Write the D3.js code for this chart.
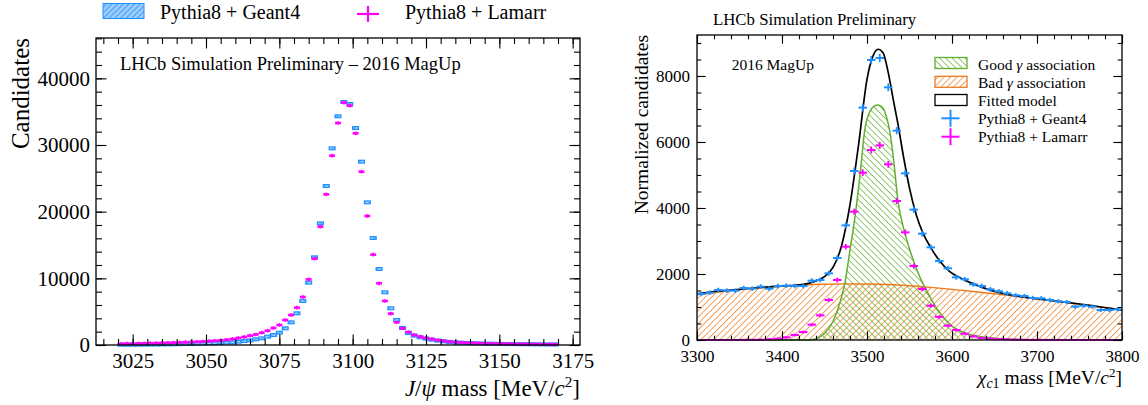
<!DOCTYPE html>
<html>
<head>
<meta charset="utf-8">
<script src="https://cdn.jsdelivr.net/npm/d3@7"></script>
<style>
  body { margin: 0; background: #fff; }
  svg, svg text { font-family: "Liberation Serif", "Times New Roman", serif; }
  svg { display: block; }
</style>
</head>
<body>
<svg width="1148" height="405"></svg>
<script>
// ---- J/psi panel (2 MeV bins, 3020..3170) ----
const jpsiBinWidth = 2;
const jpsiCenters = d3.range(3021, 3170, jpsiBinWidth);
const jpsiGeant4 = [
  40, 45, 50, 55, 60, 70, 80, 90, 100, 115, 130, 150, 170, 190, 220, 250, 280, 320, 360,
  400, 500, 600, 700, 850, 1000, 1250, 1500, 1850, 2500, 3400, 4750, 6600, 9350, 13150,
  18250, 23850, 29500, 34300, 36450, 36150, 32550, 27500, 21400, 16050, 11400, 7900, 5500,
  3750, 2550, 1800, 1400, 1150, 950,
  800, 660, 550, 460, 390, 340, 300, 265, 235, 210, 190, 175, 160, 145, 135, 125, 115, 105, 100, 90, 85, 80
];
const jpsiLamarr = [
  180, 200, 210, 230, 250, 270, 290, 310, 340, 360, 390, 420, 450, 490, 530, 580, 640, 700, 790,
  900, 1050, 1200, 1400, 1580, 1850, 2150, 2550, 3000, 3750, 4500, 5600, 7200, 9850, 12950,
  17750, 22600, 28400, 33300, 36350, 35900, 31750, 26000, 19350, 13550, 9250, 6600, 4700,
  3400, 2500, 1950, 1500, 1250, 1050,
  900, 720, 600, 500, 420, 370, 330, 290, 260, 240, 220, 200, 185, 170, 160, 150, 140, 130, 120, 110, 100, 95
];
const jpsiXTicks = [3025, 3050, 3075, 3100, 3125, 3150, 3175];
const jpsiYTicks = [0, 10000, 20000, 30000, 40000];

// ---- chi_c1 panel (10 MeV bins, 3300..3800) ----
const chiBinWidth = 10;
const chiCenters = d3.range(3305, 3800, chiBinWidth);
const chiGeant4 = [
  1394, 1434, 1515, 1495, 1495, 1576, 1555, 1616, 1555, 1636,
  1646, 1636, 1636, 1798, 1818, 2020, 2485, 3474, 5121, 7040,
  8484, 8545, 7656, 6343, 5050, 3949, 3222, 2808, 2394, 2172,
  1899, 1838, 1687, 1636, 1535, 1475, 1414, 1353, 1333, 1273,
  1263, 1212, 1172, 1151, 1010, 1040, 1010, 909, 909, 929
];
const chiLamarr = [
  0, 0, 0, 0, 0, 3, 5, 8, 20, 40,
  81, 150, 240, 465, 747, 1212, 1818, 2828, 3889, 5070,
  5757, 5898, 5323, 4212, 3262, 2242, 1545, 1040, 700, 434,
  303, 190, 110, 60, 40, 25, 15, 10, 6, 4,
  3, 2, 2, 1, 1, 0, 0, 0, 0, 0
];
const fitX = [3300, 3320, 3340, 3360, 3380, 3400, 3420, 3430, 3440, 3450, 3460, 3470, 3480, 3490,
  3500, 3507, 3513, 3519, 3525, 3531, 3536, 3543, 3550, 3558, 3566, 3575, 3586, 3597, 3610,
  3625, 3645, 3665, 3685, 3700, 3725, 3750, 3775, 3800];
const fitModel = [1400, 1470, 1510, 1560, 1600, 1635, 1670, 1710, 1790, 1920, 2200, 2850, 4100, 5900,
  7900, 8600, 8810, 8700, 8100, 7270, 6600, 5550, 4600, 3790, 3230, 2800, 2380, 2080, 1880,
  1700, 1510, 1380, 1300, 1250, 1170, 1090, 1000, 910];
const badX = [3300, 3325, 3350, 3375, 3400, 3425, 3450, 3475, 3500, 3525, 3550, 3575, 3600,
  3625, 3650, 3675, 3700, 3725, 3750, 3775, 3800];
const badGamma = [1370, 1450, 1520, 1580, 1625, 1665, 1690, 1700, 1695, 1680, 1645, 1595, 1535,
  1470, 1400, 1325, 1245, 1165, 1085, 1000, 905];
const goodX = [3300, 3430, 3440, 3450, 3460, 3468, 3474, 3480, 3487, 3493, 3497, 3503, 3508, 3513,
  3518, 3523, 3527, 3532, 3536, 3545, 3552, 3562, 3574, 3586, 3601, 3617, 3640, 3670, 3700, 3800];
const goodGamma = [0, 0, 40, 200, 560, 1120, 1730, 2730, 3950, 5300, 6300, 6900, 7080, 7120,
  7050, 6750, 6300, 5300, 4300, 3200, 2600, 1920, 1310, 810, 400, 200, 80, 20, 0, 0];
const chiXTicks = [3300, 3400, 3500, 3600, 3700, 3800];
const chiYTicks = [0, 2000, 4000, 6000, 8000];

const BLUE = "#1e90ff", PINK = "#ff00ff", GREEN = "#62b030", ORANGE = "#f07a1c";

const svg = d3.select("svg");
const defs = svg.append("defs");

function hatch(id, angle, color, bg, gap, w) {
  const p = defs.append("pattern")
    .attr("id", id)
    .attr("patternUnits", "userSpaceOnUse")
    .attr("width", gap).attr("height", gap)
    .attr("patternTransform", `rotate(${angle})`);
  if (bg) p.append("rect").attr("width", gap).attr("height", gap).attr("fill", bg);
  p.append("line")
    .attr("x1", gap / 2).attr("x2", gap / 2).attr("y1", 0).attr("y2", gap)
    .attr("stroke", color).attr("stroke-width", w);
}
hatch("blueHatch", 45, BLUE, "#a6d1fb", 4, 1);
hatch("orangeHatch", 45, ORANGE, null, 4.5, 0.7);
hatch("greenHatch", -45, GREEN, null, 4.5, 0.7);

// ticks inward on all four sides + box
function frame(g, x, y, w, h, o) {
  const style = sel => sel
    .attr("font-family", null)
    .attr("font-size", o.font)
    .call(s => s.select(".domain").remove())
    .call(s => s.selectAll("line").attr("stroke", "#000").attr("stroke-width", 1.1))
    .call(s => s.selectAll("text").attr("fill", "#000"));

  const sides = [
    { a: d3.axisBottom, s: x, t: `translate(0,${h})`, lab: true },
    { a: d3.axisTop, s: x, t: null, lab: false },
    { a: d3.axisLeft, s: y, t: null, lab: true },
    { a: d3.axisRight, s: y, t: `translate(${w},0)`, lab: false }
  ];
  for (const sd of sides) {
    const isX = sd.s === x;
    const major = isX ? o.xTicks : o.yTicks;
    const minor = isX ? o.xMinor : o.yMinor;
    g.append("g").attr("transform", sd.t)
      .call(sd.a(sd.s).tickValues(minor).tickSize(-o.minorLen).tickFormat(""))
      .call(style);
    g.append("g").attr("transform", sd.t)
      .call(sd.a(sd.s).tickValues(major).tickSize(-o.majorLen)
        .tickPadding(isX ? o.padX : o.padY)
        .tickFormat(sd.lab ? d3.format("d") : ""))
      .call(style);
  }
  g.append("rect")
    .attr("width", w).attr("height", h)
    .attr("fill", "none").attr("stroke", "#000").attr("stroke-width", 1.3);
}

// ================= left panel =================
{
  const m = { left: 96, top: 38 }, w = 484, h = 307;
  const g = svg.append("g").attr("transform", `translate(${m.left},${m.top})`);
  const x = d3.scaleLinear().domain([3012.5, 3177.5]).range([0, w]);
  const y = d3.scaleLinear().domain([0, 46050]).range([h, 0]);

  const rows = jpsiCenters.map((c, i) => ({ c, g4: jpsiGeant4[i], lam: jpsiLamarr[i] }));
  const hw = jpsiBinWidth / 2;

  g.selectAll("rect.g4").data(rows).join("rect")
    .attr("class", "g4")
    .attr("x", d => x(d.c - hw))
    .attr("width", d => x(d.c + hw) - x(d.c - hw))
    .attr("y", d => Math.min(y(d.g4 + Math.sqrt(d.g4)), y(d.g4) - 1.4))
    .attr("height", d => Math.max(y(d.g4 - Math.sqrt(d.g4)) - y(d.g4 + Math.sqrt(d.g4)), 2.8))
    .attr("fill", "url(#blueHatch)")
    .attr("stroke", BLUE).attr("stroke-width", 1.2);

  const lam = g.selectAll("g.lam").data(rows).join("g").attr("class", "lam");
  lam.append("line")
    .attr("x1", d => x(d.c - hw)).attr("x2", d => x(d.c + hw))
    .attr("y1", d => y(d.lam)).attr("y2", d => y(d.lam))
    .attr("stroke", PINK).attr("stroke-width", 2.6);
  lam.append("line")
    .attr("x1", d => x(d.c)).attr("x2", d => x(d.c))
    .attr("y1", d => y(d.lam) - Math.max(y(0) - y(Math.sqrt(d.lam)), 1.8))
    .attr("y2", d => y(d.lam) + Math.max(y(0) - y(Math.sqrt(d.lam)), 1.8))
    .attr("stroke", PINK).attr("stroke-width", 1.6);

  frame(g, x, y, w, h, {
    xTicks: jpsiXTicks, xMinor: d3.range(3015, 3180, 5),
    yTicks: jpsiYTicks, yMinor: d3.range(0, 46001, 2000),
    majorLen: 10.5, minorLen: 6, font: 21, padX: 8, padY: 6
  });

  g.append("text")
    .attr("x", 24).attr("y", 32)
    .style("font-size", "18.5px")
    .text("LHCb Simulation Preliminary \u2013 2016 MagUp");

  // axis titles
  svg.append("text")
    .attr("transform", `translate(29,${m.top}) rotate(-90)`)
    .attr("text-anchor", "end")
    .style("font-size", "25px")
    .text("Candidates");

  const xl = svg.append("text")
    .attr("x", m.left + w).attr("y", 396)
    .attr("text-anchor", "end")
    .style("font-size", "23px");
  xl.append("tspan").style("font-style", "italic").text("J");
  xl.append("tspan").text("/");
  xl.append("tspan").style("font-style", "italic").text("\u03c8");
  xl.append("tspan").text(" mass [MeV/");
  xl.append("tspan").style("font-style", "italic").text("c");
  xl.append("tspan").attr("dy", -9).style("font-size", "15px").text("2");
  xl.append("tspan").attr("dy", 9).text("]");

  // legend above the panel
  const lg = svg.append("g");
  lg.append("rect")
    .attr("x", 103).attr("y", 3.5).attr("width", 41).attr("height", 15)
    .attr("fill", "url(#blueHatch)").attr("stroke", BLUE).attr("stroke-width", 1);
  lg.append("text").attr("x", 160).attr("y", 19).style("font-size", "20px").text("Pythia8 + Geant4");
  lg.append("line").attr("x1", 357).attr("x2", 379).attr("y1", 14).attr("y2", 14)
    .attr("stroke", PINK).attr("stroke-width", 2.2);
  lg.append("line").attr("x1", 368).attr("x2", 368).attr("y1", 6).attr("y2", 22)
    .attr("stroke", PINK).attr("stroke-width", 2.2);
  lg.append("text").attr("x", 405).attr("y", 19).style("font-size", "20px").text("Pythia8 + Lamarr");
}

// ================= right panel =================
{
  const m = { left: 697, top: 35 }, w = 425, h = 305;
  const g = svg.append("g").attr("transform", `translate(${m.left},${m.top})`);
  const x = d3.scaleLinear().domain([3300, 3800]).range([0, w]);
  const y = d3.scaleLinear().domain([0, 9242]).range([h, 0]);

  const bad = badX.map((v, i) => ({ x: v, y: badGamma[i] }));
  const good = goodX.map((v, i) => ({ x: v, y: goodGamma[i] }));
  const fit = fitX.map((v, i) => ({ x: v, y: fitModel[i] }));

  const area = d3.area().x(d => x(d.x)).y0(y(0)).y1(d => y(d.y)).curve(d3.curveMonotoneX);
  const line = d3.line().x(d => x(d.x)).y(d => y(d.y)).curve(d3.curveMonotoneX);

  g.append("path").datum(bad).attr("d", area).attr("fill", "url(#orangeHatch)");
  g.append("path").datum(good).attr("d", area).attr("fill", "url(#greenHatch)");
  g.append("path").datum(bad).attr("d", line).attr("fill", "none").attr("stroke", ORANGE).attr("stroke-width", 1.4);
  g.append("path").datum(good).attr("d", line).attr("fill", "none").attr("stroke", GREEN).attr("stroke-width", 1.5);
  g.append("path").datum(fit).attr("d", line).attr("fill", "none").attr("stroke", "#000").attr("stroke-width", 1.7);

  const hw = chiBinWidth / 2;
  function crosses(vals, color) {
    const rows = chiCenters.map((c, i) => ({ c, v: vals[i] }));
    const p = g.append("g").selectAll("g").data(rows).join("g");
    p.append("line")
      .attr("x1", d => x(d.c - hw)).attr("x2", d => x(d.c + hw))
      .attr("y1", d => y(d.v)).attr("y2", d => y(d.v))
      .attr("stroke", color).attr("stroke-width", 2);
    p.append("line")
      .attr("x1", d => x(d.c)).attr("x2", d => x(d.c))
      .attr("y1", d => y(d.v + Math.sqrt(d.v)) - 1)
      .attr("y2", d => Math.min(y(d.v - Math.sqrt(d.v)) + 1, h))
      .attr("stroke", color).attr("stroke-width", 1.8);
  }
  crosses(chiLamarr, PINK);
  crosses(chiGeant4, BLUE);

  frame(g, x, y, w, h, {
    xTicks: chiXTicks, xMinor: d3.range(3300, 3801, 20),
    yTicks: chiYTicks, yMinor: d3.range(0, 9001, 500),
    majorLen: 8.7, minorLen: 4.3, font: 17, padX: 10, padY: 7
  });

  svg.append("text").attr("x", 713).attr("y", 25).style("font-size", "16.8px")
    .text("LHCb Simulation Preliminary");
  svg.append("text").attr("x", 731.7).attr("y", 69.5).style("font-size", "15.5px")
    .text("2016 MagUp");

  svg.append("text")
    .attr("transform", `translate(648,${m.top}) rotate(-90)`)
    .attr("text-anchor", "end")
    .style("font-size", "19.5px")
    .text("Normalized candidates");

  const xl = svg.append("text")
    .attr("x", m.left + w).attr("y", 384)
    .attr("text-anchor", "end")
    .style("font-size", "19.5px");
  xl.append("tspan").style("font-style", "italic").text("\u03c7");
  xl.append("tspan").attr("dy", 4).style("font-size", "14px").style("font-style", "italic").text("c");
  xl.append("tspan").style("font-size", "14px").text("1");
  xl.append("tspan").attr("dy", -4).text(" mass [MeV/");
  xl.append("tspan").style("font-style", "italic").text("c");
  xl.append("tspan").attr("dy", -7).style("font-size", "13px").text("2");
  xl.append("tspan").attr("dy", 7).text("]");

  // legend
  const lg = svg.append("g").style("font-size", "15.5px");
  const boxes = [
    { y: 57.5, fill: "url(#greenHatch)", stroke: GREEN, label: ["Good ", "\u03b3", " association"], cy: 64 },
    { y: 76.3, fill: "url(#orangeHatch)", stroke: ORANGE, label: ["Bad ", "\u03b3", " association"], cy: 82.3 },
    { y: 94.5, fill: "#fff", stroke: "#000", label: ["Fitted model"], cy: 100.7 }
  ];
  for (const b of boxes) {
    lg.append("rect").attr("x", 935).attr("y", b.y).attr("width", 32).attr("height", 11)
      .attr("fill", b.fill).attr("stroke", b.stroke).attr("stroke-width", 1.3);
    const t = lg.append("text").attr("x", 978).attr("y", b.cy + 5.5);
    b.label.forEach((s, i) => t.append("tspan").style("font-style", i === 1 ? "italic" : null).text(s));
  }
  [{ c: BLUE, label: "Pythia8 + Geant4", cy: 118.3 }, { c: PINK, label: "Pythia8 + Lamarr", cy: 136.7 }]
    .forEach(e => {
      lg.append("line").attr("x1", 941.5).attr("x2", 959.5).attr("y1", e.cy).attr("y2", e.cy)
        .attr("stroke", e.c).attr("stroke-width", 2);
      lg.append("line").attr("x1", 950.5).attr("x2", 950.5).attr("y1", e.cy - 8.5).attr("y2", e.cy + 8.5)
        .attr("stroke", e.c).attr("stroke-width", 2);
      lg.append("text").attr("x", 978).attr("y", e.cy + 5.5).text(e.label);
    });
}
</script>
</body>
</html>
